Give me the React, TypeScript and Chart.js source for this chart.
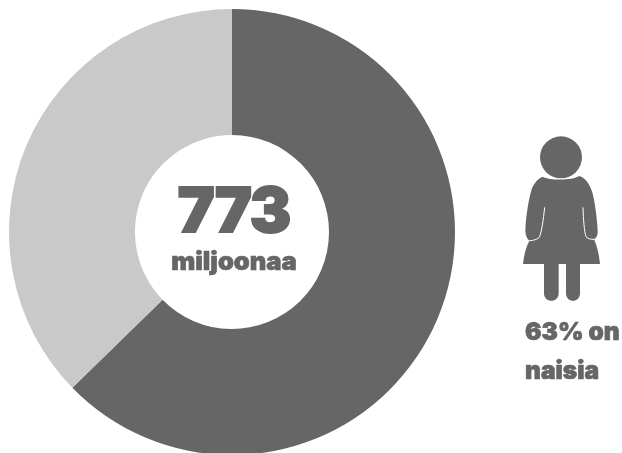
import React, { useEffect, useRef } from "react";
import { Chart, registerables } from "chart.js";

Chart.register(...registerables);

const categories = ["Naiset", "Miehet"];
const shares = [62.7, 37.3];
const colours = ["#666666", "#c9c9c9"];
const centreValue = "773";
const centreUnit = "miljoonaa";
const noteLines = ["63% on", "naisia"];

const textStyle: React.CSSProperties = {
  position: "absolute",
  fontFamily: "Inter, 'Liberation Sans', sans-serif",
  fontWeight: 900,
  color: "#666666",
  whiteSpace: "nowrap",
  lineHeight: 1,
};

export default function App() {
  const ref = useRef<HTMLCanvasElement>(null);
  useEffect(() => {
    document.body.style.margin = "0";
    const chart = new Chart(ref.current!, {
      type: "doughnut",
      data: {
        labels: categories,
        datasets: [{ data: shares, backgroundColor: colours, borderWidth: 0 }],
      },
      options: {
        animation: false,
        responsive: false,
        cutout: "43.5%",
        layout: { padding: { left: 9, top: 9, right: 167, bottom: 5 } },
        plugins: { legend: { display: false }, tooltip: { enabled: false } },
      },
    });
    return () => chart.destroy();
  }, []);

  return (
    <div style={{ position: "relative", width: 622, height: 453, overflow: "hidden", background: "#fff" }}>
      <canvas ref={ref} width={622} height={460} style={{ position: "absolute", left: 0, top: 0 }} />
      <div style={{ ...textStyle, left: 134, width: 200, textAlign: "center", top: 179, fontSize: 62, letterSpacing: -1, WebkitTextStroke: "2px #666666" }}>{centreValue}</div>
      <div style={{ ...textStyle, left: 134, width: 200, textAlign: "center", top: 248, fontSize: 25.5, WebkitTextStroke: "0.7px #666666" }}>{centreUnit}</div>
      <svg viewBox="0 0 366 810" width={122} height={270} style={{ position: "absolute", left: 500, top: 120 }}>
        <circle cx="183" cy="112" r="63" fill="#666666" />
        <path
          fill="#666666"
          d="M128 170 C150 182 215 182 238 168 C262 175 278 205 284 250 C290 290 293 320 293 338 C293 350 285 355 282 358 C290 375 297 400 300 432 L240 432 L240 520 C240 550 198 550 198 520 L198 432 L176 432 L176 520 C176 550 132 550 132 520 L132 432 L69 432 C72 405 78 380 88 362 C80 355 76 345 76 330 C78 290 85 240 96 205 C103 188 115 175 128 170 Z"
        />
        <path fill="none" stroke="#ffffff" strokeWidth="3" d="M134 262 C130 300 125 335 118 352 C112 358 100 362 88 362" />
        <path fill="none" stroke="#ffffff" strokeWidth="3" d="M249 262 C250 300 253 335 258 350 C264 357 272 358 282 358" />
      </svg>
      <div style={{ ...textStyle, left: 525, top: 319, fontSize: 24.5, WebkitTextStroke: "0.7px #666666" }}>{noteLines[0]}</div>
      <div style={{ ...textStyle, left: 525, top: 358, fontSize: 24.5, WebkitTextStroke: "0.7px #666666" }}>{noteLines[1]}</div>
    </div>
  );
}
